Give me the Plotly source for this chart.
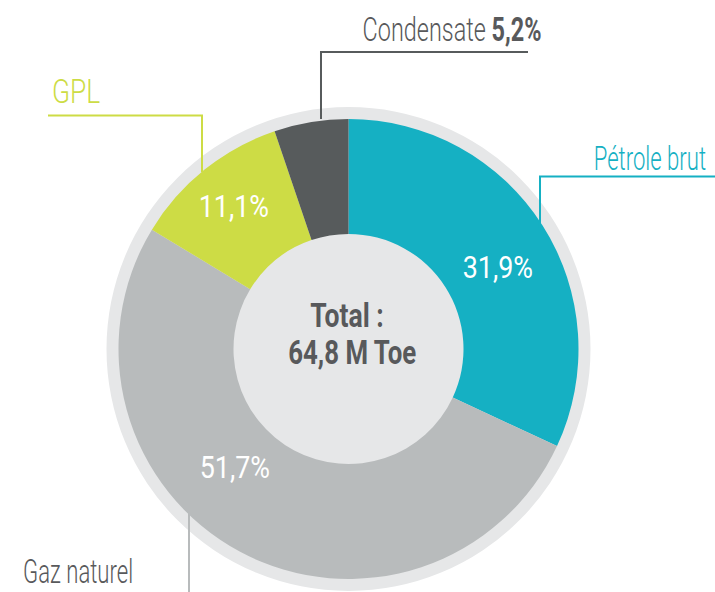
import plotly.graph_objects as go

# ---- data ----
categories = ["Pétrole brut", "Gaz naturel", "GPL", "Condensate"]
shares = [31.9, 51.7, 11.1, 5.2]
colors = ["#15B0C3", "#B8BBBC", "#CDDC45", "#575B5C"]
total_label = ["Total :", "64,8 M Toe"]

W, H = 715, 592
FONT = "Roboto, Liberation Sans, sans-serif"
TXT = "#58595B"
RING = "#E6E7E8"

def fx(x):
    return x / W

def fy(y):
    return 1 - y / H

def fmt(v):
    return f"{v:.1f}".replace(".", ",") + "%"

cx, cy, R = 348.5, 349, 230

fig = go.Figure()
fig.add_trace(go.Pie(
    labels=categories, values=shares, sort=False, direction="clockwise",
    rotation=0, hole=0.5, textinfo="none", hoverinfo="label+percent",
    marker=dict(colors=colors, line=dict(width=0)),
    domain=dict(x=[fx(cx - R), fx(cx + R)], y=[fy(cy + R), fy(cy - R)]),
    showlegend=False,
))

shapes = []
Rr = 242
shapes.append(dict(type="circle", xref="paper", yref="paper", layer="below",
                   x0=fx(cx - Rr), x1=fx(cx + Rr), y0=fy(cy + Rr), y1=fy(cy - Rr),
                   fillcolor=RING, line=dict(width=0)))

def path(pts, color):
    d = "M " + " L ".join(f"{fx(x):.5f},{fy(y):.5f}" for x, y in pts)
    return dict(type="path", xref="paper", yref="paper", path=d,
                line=dict(color=color, width=2), layer="above")

shapes.append(path([(321, 119), (321, 52), (528, 52)], colors[3]))
shapes.append(path([(202, 172), (202, 115.5), (48, 115.5)], colors[2]))
shapes.append(path([(540, 228), (540, 176.5), (716, 176.5)], colors[0]))
shapes.append(path([(189, 513), (189, 593)], colors[1]))

ann = []
scales = []
def A(text, x, y, size, color, sx, weight=300):
    ann.append(dict(text=text, x=fx(x), y=fy(y), xref="paper", yref="paper",
                    xanchor="center", yanchor="middle", showarrow=False,
                    font=dict(family=FONT, size=size, color=color, weight=weight)))
    scales.append(sx)

A(fmt(shares[0]), 497.5, 267, 32, "white", 0.84, 400)
A(fmt(shares[1]), 234.5, 467, 32, "white", 0.84, 400)
A(fmt(shares[2]), 234, 206, 32, "white", 0.84, 400)
A(f"<b>{total_label[0]}</b>", 347, 315, 34, TXT, 0.78, 400)
A(f"<b>{total_label[1]}</b>", 351.5, 352, 34, TXT, 0.76, 400)
A(f"{categories[3]} <b>{fmt(shares[3])}</b>", 452, 30, 33, TXT, 0.71)
A(categories[2], 76, 92, 33, colors[2], 0.8)
A(categories[0], 650, 158, 33, colors[0], 0.67)
A(categories[1], 77.5, 571, 33, TXT, 0.67)

fig.update_layout(width=W, height=H, margin=dict(l=0, r=0, t=0, b=0),
                  paper_bgcolor="white", plot_bgcolor="white",
                  shapes=shapes, annotations=ann)

css = "".join(
    f'.annotation[data-index="{i}"] .annotation-text{{transform:scaleX({s});'
    f'transform-box:fill-box;transform-origin:50% 50%;}}'
    for i, s in enumerate(scales)
)
post = (
    "document.body.style.margin='0';document.body.style.overflow='hidden';"
    "var s=document.createElement('style');"
    f"s.textContent='{css}';"
    "document.head.appendChild(s);"
)
fig.write_html("out.html", config={"displayModeBar": False}, post_script=post)
